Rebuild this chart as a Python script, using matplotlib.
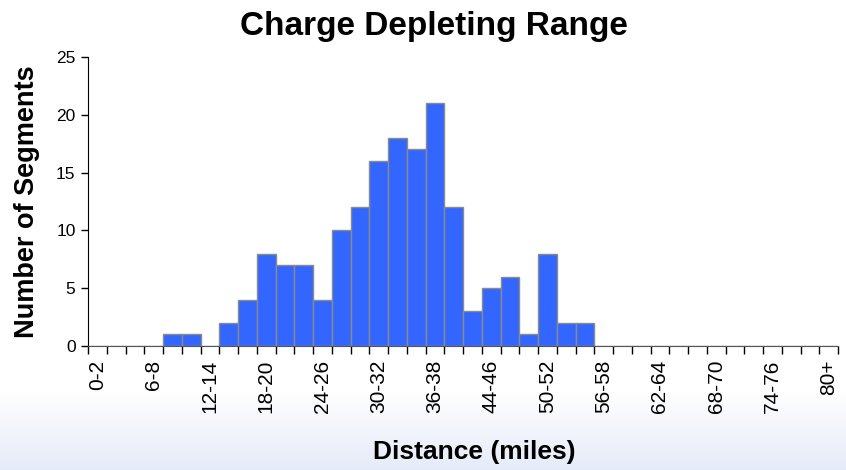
import numpy as np
import matplotlib
matplotlib.use("Agg")
import matplotlib.pyplot as plt

plt.rcParams['font.family'] = ['Liberation Sans', 'DejaVu Sans']

# Distance bins (miles) and segment counts per bin
categories = ["0-2", "2-4", "4-6", "6-8", "8-10", "10-12", "12-14", "14-16",
              "16-18", "18-20", "20-22", "22-24", "24-26", "26-28", "28-30",
              "30-32", "32-34", "34-36", "36-38", "38-40", "40-42", "44-46",
              "46-48", "48-50", "50-52", "52-54", "54-56", "56-58", "58-60",
              "60-62", "62-64", "64-66", "66-68", "68-70", "70-72", "72-74",
              "74-76", "76-78", "78-80", "80+"]
counts = [0, 0, 0, 0, 1, 1, 0, 2, 4, 8, 7, 7, 4, 10, 12, 16, 18, 17, 21, 12,
          3, 5, 6, 1, 8, 2, 2, 0, 0, 0, 0, 0, 0, 0, 0, 0, 0, 0, 0, 0]
y_ticks = [0, 5, 10, 15, 20, 25]

W, H = 846, 470
fig = plt.figure(figsize=(W / 100, H / 100), dpi=100)
fig.patch.set_facecolor("white")

# Soft white-to-lavender band along the bottom of the figure
bg = fig.add_axes([0, 0, 1, 1], zorder=-10)
grad = np.ones((H, 1, 3))
yy = np.arange(H)
t = np.clip((yy - 390) / (H - 390), 0, 1)
top_col = np.array([1.0, 1.0, 1.0])
bot_col = np.array([0.90, 0.92, 0.975])
for i in range(H):
    grad[i, 0, :] = top_col * (1 - t[i]) + bot_col * t[i]
bg.imshow(grad, aspect="auto", extent=[0, 1, 0, 1], origin="upper")
bg.set_axis_off()

left, right, top, bottom = 88, 838, 57, 346
ax = fig.add_axes([left / W, (H - bottom) / H, (right - left) / W, (bottom - top) / H])
ax.set_facecolor("none")

x = np.arange(len(categories))
ax.bar(x, counts, width=1.0, color="#3366FF", edgecolor="#8a8a8a", linewidth=1.0, zorder=2)

ax.set_xlim(-0.5, len(categories) - 0.5)
ax.set_ylim(0, 25)
ax.set_yticks(y_ticks)
ax.tick_params(axis="y", direction="out", length=5, width=1, labelsize=12.5, pad=4)

# Tick marks at bin boundaries, labels on every third bin
ax.set_xticks(np.arange(-0.5, len(categories) + 0.5, 1.0))
ax.set_xticklabels([])
ax.tick_params(axis="x", which="major", direction="out", length=6, width=1)
ax.set_xticks(x[::3], minor=True)
ax.set_xticklabels(categories[::3], minor=True, rotation=90, fontsize=15)
ax.tick_params(axis="x", which="minor", length=0, pad=10)

for s in ["top", "right"]:
    ax.spines[s].set_visible(False)
ax.spines["left"].set_color("black")
ax.spines["bottom"].set_color("#555555")

fig.text(434 / W, 1 - 27 / H, "Charge Depleting Range",
         ha="center", va="center", fontsize=24, fontweight="bold")
fig.text(474 / W, 1 - 452 / H, "Distance (miles)",
         ha="center", va="center", fontsize=19, fontweight="bold")
fig.text(27 / W, 1 - 202 / H, "Number of Segments", rotation=90,
         ha="center", va="center", fontsize=19.5, fontweight="bold")

fig.savefig("out.png", dpi=100)
